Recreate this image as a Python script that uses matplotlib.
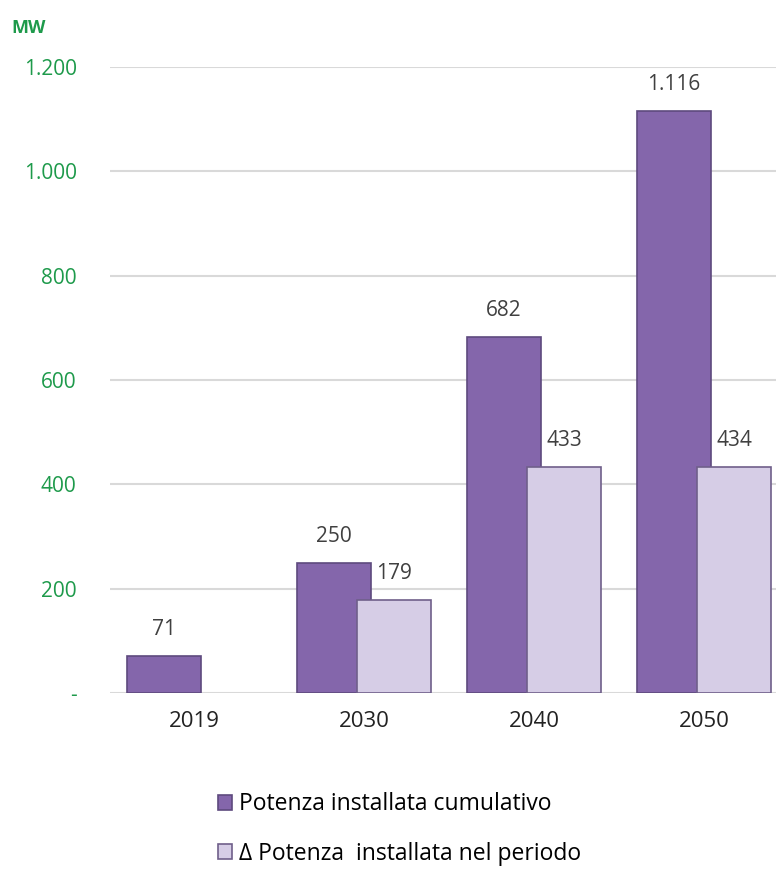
import matplotlib.pyplot as plt
import numpy as np

plt.rcParams['font.family'] = ['Open Sans', 'DejaVu Sans']

anni = ['2019', '2030', '2040', '2050']
cumulativo = [71, 250, 682, 1116]
delta = [np.nan, 179, 433, 434]
yticks = [0, 200, 400, 600, 800, 1000, 1200]
ytick_labels = ['-', '200', '400', '600', '800', '1.000', '1.200']
val_labels_cum = ['71', '250', '682', '1.116']
val_labels_delta = ['', '179', '433', '434']

viola = '#8466ab'
viola_chiaro = '#d6cde6'
verde = '#1e9a4b'
testo = '#404040'

fig = plt.figure(figsize=(7.76, 8.74), dpi=100)
ax = fig.add_axes([0.1418, 0.2071, 0.8582, 0.7162])

x = np.arange(len(anni))
w = 0.435
off = 0.353

b1 = ax.bar(x, cumulativo, w, color=viola, edgecolor='#5e4a7e', linewidth=1.2,
            zorder=3, label='Potenza installata cumulativo')
b2 = ax.bar(x + off, delta, w, color=viola_chiaro, edgecolor='#6f5f8a', linewidth=1.2,
            zorder=4, label='\u0394 Potenza  installata nel periodo')

for xi, v, t in zip(x, cumulativo, val_labels_cum):
    ax.annotate(t, (xi, v), xytext=(0, 19), textcoords='offset points',
                ha='center', va='center', fontsize=15, color=testo, zorder=6)
for xi, v, t in zip(x + off, delta, val_labels_delta):
    if t:
        ax.annotate(t, (xi, v), xytext=(0, 19), textcoords='offset points',
                    ha='center', va='center', fontsize=15, color=testo, zorder=6)

ax.set_xlim(-0.318, 3.6)
ax.set_ylim(0, 1200)
ax.set_yticks(yticks)
ax.set_yticklabels(ytick_labels, color=verde, fontsize=15)
ax.set_xticks(x + off / 2)
ax.set_xticklabels(anni, fontsize=16, color='#222222')
ax.tick_params(axis='both', length=0)
ax.tick_params(axis='y', pad=24)
ax.tick_params(axis='x', pad=13)
ax.grid(axis='y', color='#d9d9d9', linewidth=1.5, zorder=0)
for s in ax.spines.values():
    s.set_visible(False)

fig.text(0.015, 0.968, 'MW', color=verde, fontsize=13, fontweight='bold',
         ha='left', va='center')

fig.legend(handles=[b1, b2], loc='center', bbox_to_anchor=(0.515, 0.0515),
           frameon=False, fontsize=16.5, handlelength=0.6, handleheight=0.6,
           handletextpad=0.3, labelspacing=1.1, ncol=1)

fig.savefig('out.png', dpi=100)
